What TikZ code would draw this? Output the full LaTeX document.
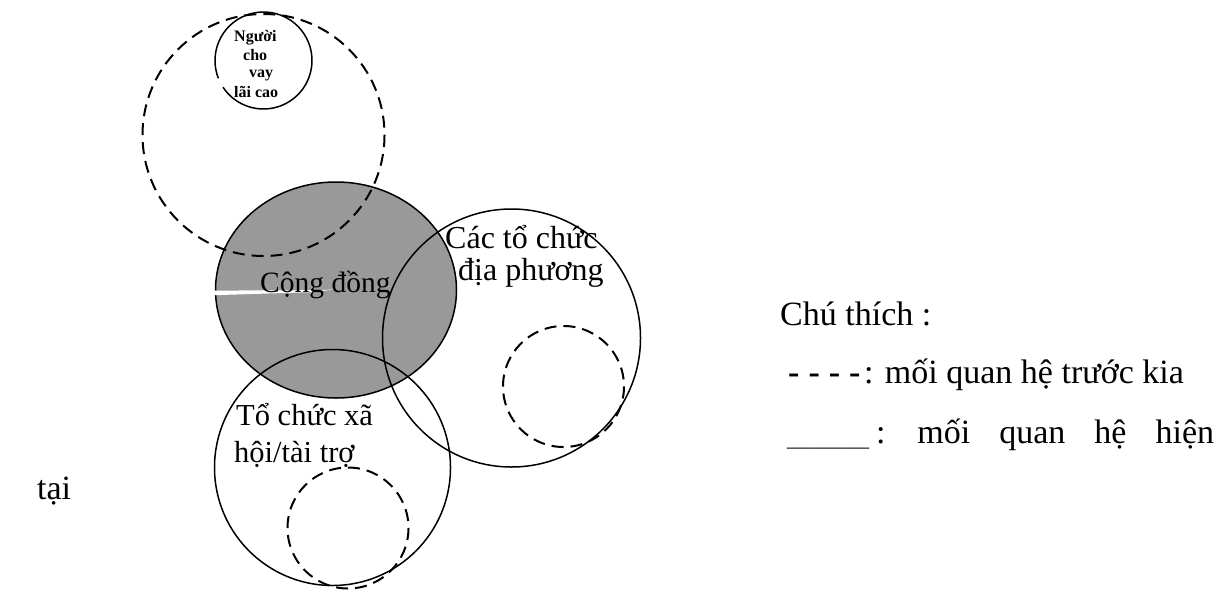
\documentclass[tikz,border=0pt]{standalone}
\usepackage{fontspec}
\setmainfont{Liberation Serif}
\begin{document}
\begin{tikzpicture}[x=1pt,y=-1pt,
  ring/.style={draw=black,line width=1.5pt},
  oldring/.style={draw=black,line width=2pt,dash pattern=on 12pt off 7pt},
  lbl/.style={font=\fontsize{29.5}{34}\selectfont,inner sep=0pt,anchor=base west},
  biglbl/.style={lbl,font=\fontsize{32}{36}\selectfont},
  keylbl/.style={lbl,font=\fontsize{34}{40}\selectfont},
  tinylbl/.style={font=\fontsize{16}{18}\selectfont\bfseries,inner sep=0pt,anchor=base west}]
\definecolor{communitygray}{RGB}{153,153,153}
\useasboundingbox (0,0) rectangle (1230,589);

% community (shaded ellipse)
\fill[communitygray] (336,290) ellipse [x radius=120.5, y radius=108];
\draw[ring] (336,290) ellipse [x radius=120.5, y radius=108];
\fill[white] (214,290.6) -- (310,290.2) -- (334,289.6) -- (310,292.2) -- (214,295.2) -- cycle;

% former lender circle and high-interest lenders (small break in the outline)
\draw[oldring] (263.5,135) circle [radius=121];
\coordinate (lender) at (263.5,60.5);
\draw[ring] (lender) ++(158.5:48.5) arc [start angle=158.5, end angle=506.5, radius=48.5];

% local organisations
\draw[ring] (511.5,338) circle [radius=129];
\draw[oldring] (563.5,386.5) circle [radius=60.5];

% social / donor organisations
\draw[ring] (332.5,467.5) circle [radius=118];
\draw[oldring] (348,528) circle [radius=60.5];

% labels
\node[tinylbl] (n1) at (234,41) {Người};
\node[tinylbl] (n2) at (243,60) {cho};
\node[tinylbl] (n3) at (249,77) {vay};
\node[tinylbl] (n4) at (234,97) {lãi cao};

\node[lbl] (cd) at (260,292) {Cộng đồng};
\node[biglbl] (ctc1) at (445,248) {Các tổ chức};
\node[biglbl] (ctc2) at (458,280) {địa phương};
\node[lbl,font=\fontsize{30.5}{34}\selectfont] (tcx1) at (236,425) {Tổ chức xã};
\node[lbl,font=\fontsize{30.5}{34}\selectfont] (tcx2) at (234,462) {hội/tài trợ};

% legend (justified paragraph; its last word wraps to the left margin)
\node[keylbl] (leg) at (780,325) {Chú thích :};
\node[keylbl] (olddash) at (788,383) {\bfseries\spaceskip=9pt - - - -};
\node[keylbl] (oldtxt) at (864,383) {: mối quan hệ trước kia};
\node[lbl,font=\fontsize{20.5}{24}\selectfont] (newline) at (787,446) {\_\_\_\_\_\_\_\_};
\node[keylbl] (newtxt) at (876,443) {\spaceskip=29pt : mối quan hệ hiện};
\node[keylbl] (tai) at (37,499) {tại};
\end{tikzpicture}
\end{document}
